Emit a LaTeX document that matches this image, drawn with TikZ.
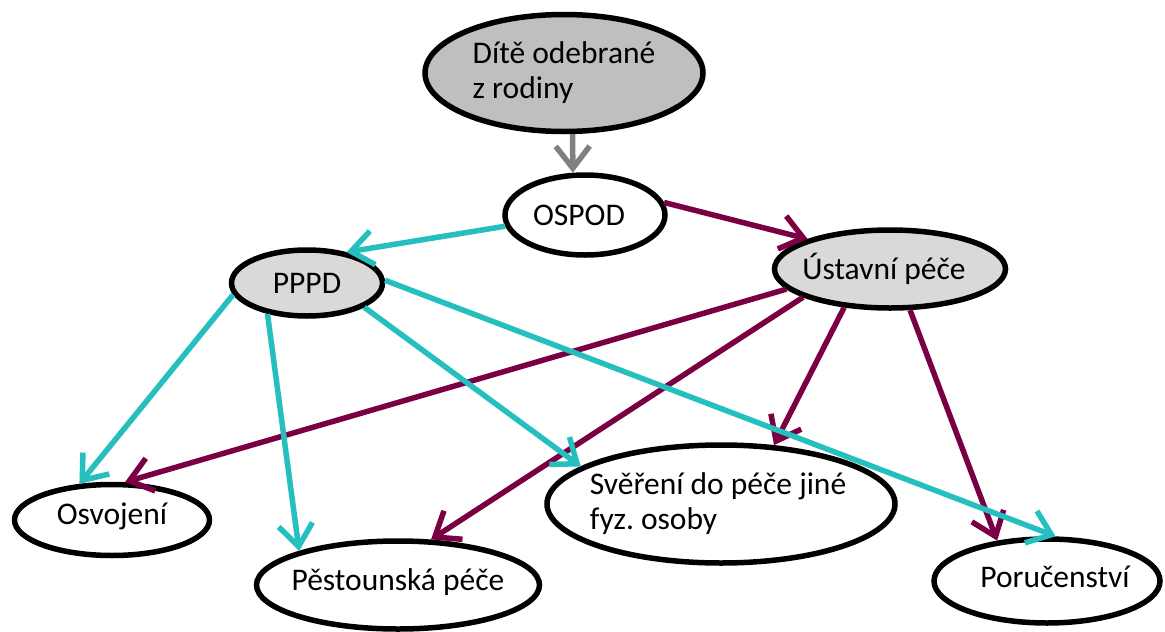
\documentclass[tikz,border=0pt]{standalone}
\usepackage{fontspec}
\setmainfont{Carlito}
\usetikzlibrary{shapes.geometric,arrows.meta}
\definecolor{tealc}{HTML}{26BFBF}
\definecolor{maroonc}{HTML}{7A0043}
\definecolor{grayarrow}{HTML}{808080}
\definecolor{darkfill}{HTML}{BFBFBF}
\definecolor{lightfill}{HTML}{D9D9D9}
\begin{document}
\begin{tikzpicture}[x=1pt,y=-1pt,
  ell/.style={ellipse, draw=black, line width=5.5pt, fill=white, inner sep=0pt},
  lbl/.style={font=\fontsize{31.5}{35}\selectfont\frenchspacing, align=left, inner sep=0pt, text=black},
  conn/.style={line width=5.5pt, -{Straight Barb[length=22pt,width=34pt]}},
  tl/.style={conn, draw=tealc},
  mr/.style={conn, draw=maroonc},
  gr/.style={conn, draw=grayarrow}
]
\useasboundingbox (0,0) rectangle (1165,632);

% nodes
\node[ell, fill=darkfill, minimum width=278pt, minimum height=117pt,
      label={[lbl]center:Dítě odebrané\\z rodiny}] (dite) at (564,73) {};
\node[ell, minimum width=160pt, minimum height=80pt,
      label={[lbl,xshift=-6pt]center:OSPOD}] (ospod) at (585,215) {};
\node[ell, fill=lightfill, minimum width=151pt, minimum height=66pt,
      label={[lbl]center:PPPD}] (pppd) at (307,283) {};
\node[ell, fill=lightfill, minimum width=231pt, minimum height=78pt,
      label={[lbl,xshift=-6pt]center:Ústavní péče}] (ustav) at (890,269) {};
\node[ell, minimum width=195pt, minimum height=71pt,
      label={[lbl,yshift=4pt]center:Osvojení}] (osv) at (112,520) {};
\node[ell, minimum width=283pt, minimum height=88pt,
      label={[lbl,yshift=3pt]center:Pěstounská péče}] (pest) at (398,585) {};
\node[ell, minimum width=348pt, minimum height=118pt,
      label={[lbl,xshift=-3pt]center:Svěření do péče jiné\\fyz. osoby}] (sver) at (721,504) {};
\node[ell, minimum width=226pt, minimum height=84pt,
      label={[lbl,xshift=8pt,yshift=4pt]center:Poručenství}] (poruc) at (1047,581) {};

% connectors
\draw[gr] (dite.-82) -- (ospod.106);
\draw[mr] (ospod.9) -- (ustav.160);
\draw[mr] (ustav.191) -- (osv.71);
\draw[mr] (ustav.198) -- (pest.54);
\draw[mr] (ustav.220) -- (sver.48);
\draw[mr] (ustav.-64) -- (poruc.141);
\draw[tl] (ospod.188) -- (pppd.38);
\draw[tl] (pppd.189) -- (osv.132);
\draw[tl] (pppd.218) -- (pest.161);
\draw[tl] (pppd.-23) -- (sver.165);
\draw[tl] (pppd.2) -- (poruc.79);
\end{tikzpicture}
\end{document}
